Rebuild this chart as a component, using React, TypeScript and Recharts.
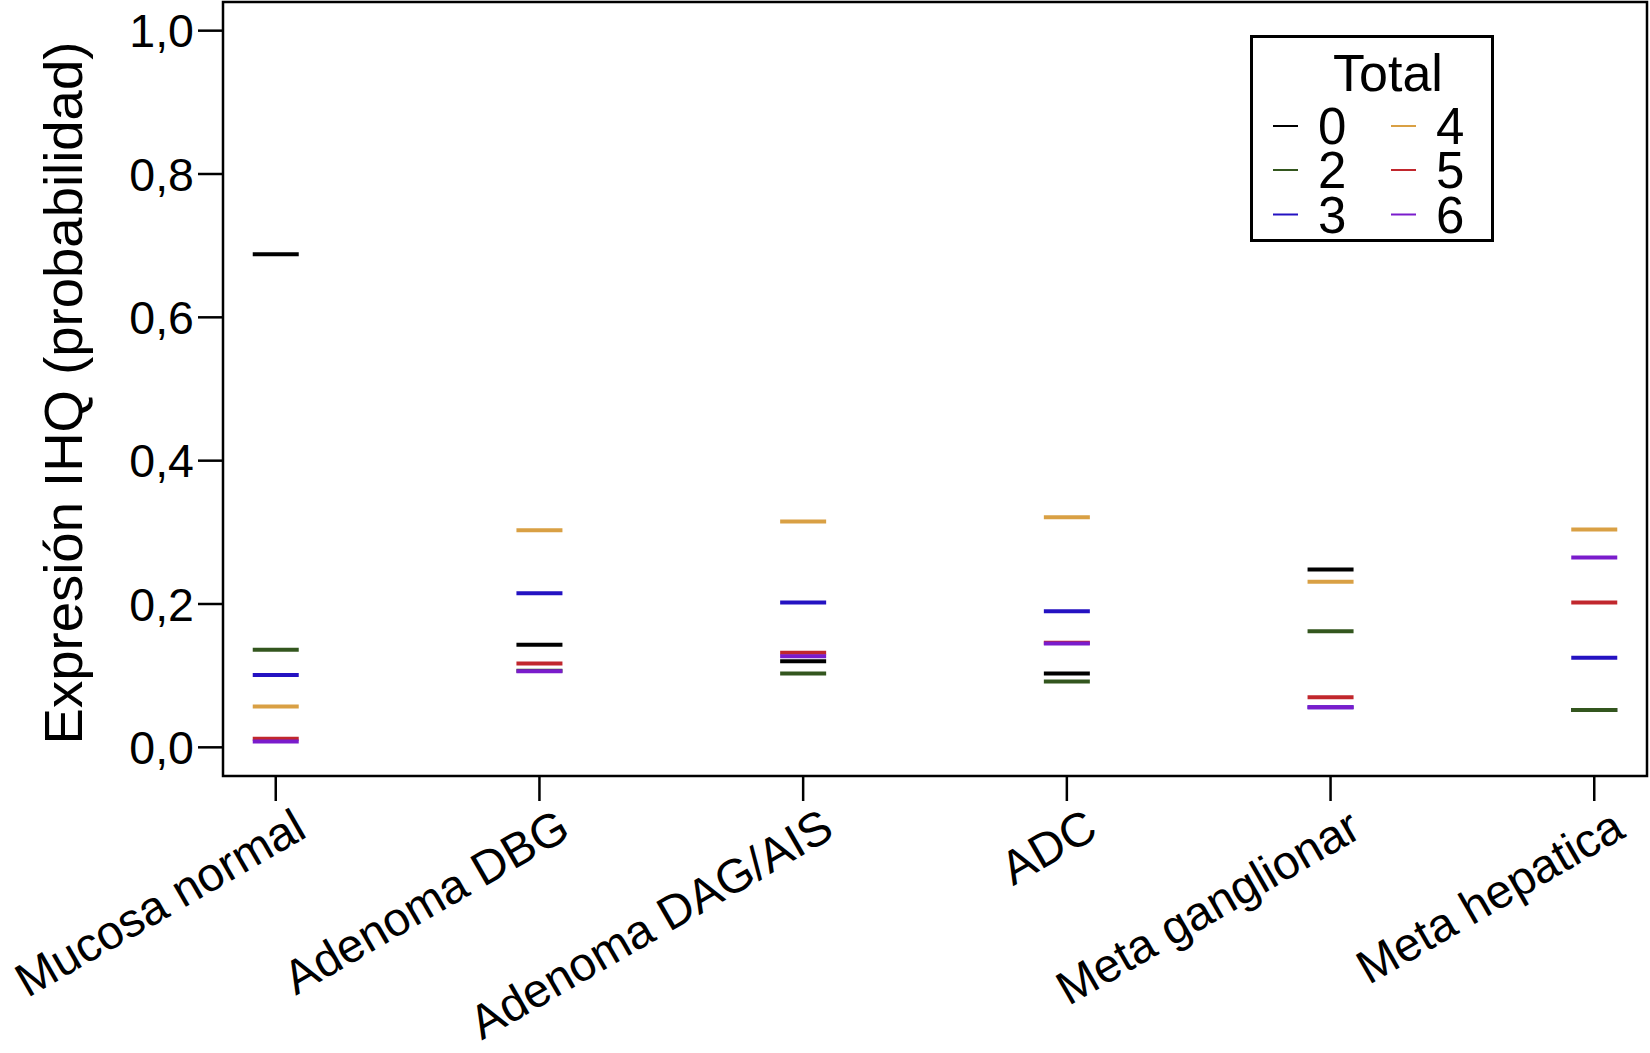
import { ScatterChart, Scatter, XAxis, YAxis, ReferenceArea, Legend } from 'recharts'

const categories = ['Mucosa normal', 'Adenoma DBG', 'Adenoma DAG/AIS', 'ADC', 'Meta ganglionar', 'Meta hepatica']
const xPositions = [1, 2, 3, 4, 5, 6]
const yTicks = [0, 0.2, 0.4, 0.6, 0.8, 1.0]

// probabilidad por grupo "Total"
const total0 = [0.688, 0.143, 0.120, 0.103, 0.248, 0.052]
const total2 = [0.136, 0.107, 0.103, 0.092, 0.162, 0.052]
const total3 = [0.101, 0.215, 0.202, 0.190, 0.056, 0.125]
const total4 = [0.057, 0.303, 0.315, 0.321, 0.231, 0.304]
const total5 = [0.012, 0.117, 0.132, 0.146, 0.070, 0.202]
const total6 = [0.008, 0.106, 0.127, 0.145, 0.056, 0.265]

const seriesNames = ['0', '2', '3', '4', '5', '6']
const seriesValues = [total0, total2, total3, total4, total5, total6]
const seriesColors = ['#000000', '#33561e', '#2412c2', '#d9a044', '#c1272d', '#7a1ccc']

const FONT = '"Liberation Sans", Arial, Helvetica, sans-serif'

const seriesData = seriesValues.map(vals =>
  xPositions.map((x, i) => ({ x, y: vals[i] }))
)

function segment(color: string) {
  return (props: any) => {
    const { cx, cy } = props
    if (cx == null || cy == null) return <g />
    return <line x1={cx - 23} x2={cx + 23} y1={cy} y2={cy} stroke={color} strokeWidth={4} />
  }
}

function XTick(props: any) {
  const { x, y, payload } = props
  const label = categories[xPositions.indexOf(payload.value)]
  return (
    <text
      transform={`translate(${x + 33},${y + 33}) rotate(-30)`}
      textAnchor="end"
      fontSize={47.5}
      fontFamily={FONT}
      fill="#000"
    >
      {label}
    </text>
  )
}

function YTitle() {
  return (
    <text
      x={82}
      y={393}
      transform="rotate(-90 82 393)"
      textAnchor="middle"
      fontSize={54.5}
      fontFamily={FONT}
      fill="#000"
    >
      Expresión IHQ (probabilidad)
    </text>
  )
}

function LegendBox() {
  const rows = [91, 135, 179.5]
  return (
    <svg width={244} height={208} style={{ display: 'block' }}>
      <rect x={1.5} y={1.5} width={241} height={204} fill="#fff" stroke="#000" strokeWidth={3} />
      <text x={138} y={56} textAnchor="middle" fontSize={52} fontFamily={FONT} fill="#000">Total</text>
      {seriesNames.map((name, i) => {
        const col = Math.floor(i / 3)
        const cy = rows[i % 3]
        const lx = col === 0 ? 23 : 141
        return (
          <g key={name}>
            <line x1={lx} x2={lx + 25} y1={cy} y2={cy} stroke={seriesColors[i]} strokeWidth={2} />
            <text x={lx + 45} y={cy + 18} fontSize={51} fontFamily={FONT} fill="#000">{name}</text>
          </g>
        )
      })}
    </svg>
  )
}

export default function App() {
  return (
    <div style={{ position: 'absolute', left: 0, top: 0, width: 1650, height: 1053, background: '#fff' }}>
      <ScatterChart width={1650} height={1053} margin={{ top: 2, right: 3, bottom: 0, left: 0 }}>
        <XAxis
          type="number"
          dataKey="x"
          domain={[0.8, 6.2]}
          ticks={xPositions}
          allowDataOverflow
          height={277}
          axisLine={false}
          tickSize={25}
          tickLine={{ stroke: '#000', strokeWidth: 2.5 }}
          tick={<XTick />}
          interval={0}
        />
        <YAxis
          type="number"
          dataKey="y"
          domain={[-0.04, 1.04]}
          ticks={yTicks}
          allowDataOverflow
          width={223}
          axisLine={false}
          tickSize={25}
          tickMargin={4}
          tickLine={{ stroke: '#000', strokeWidth: 2.5 }}
          tick={{ fontSize: 46.5, fill: '#000', fontFamily: FONT }}
          tickFormatter={(v: number) => v.toFixed(1).replace('.', ',')}
          interval={0}
          label={<YTitle />}
        />
        <ReferenceArea
          x1={0.8}
          x2={6.2}
          y1={-0.04}
          y2={1.04}
          ifOverflow="visible"
          fill="none"
          stroke="#000"
          strokeWidth={2.5}
          fillOpacity={0}
        />
        {seriesData.map((data, i) => (
          <Scatter
            key={seriesNames[i]}
            name={seriesNames[i]}
            data={data}
            fill={seriesColors[i]}
            shape={segment(seriesColors[i])}
            isAnimationActive={false}
          />
        ))}
        <Legend
          layout="vertical"
          align="center"
          verticalAlign="middle"
          wrapperStyle={{ left: 1250, top: 35, width: 244, height: 208 }}
          content={() => <LegendBox />}
        />
      </ScatterChart>
    </div>
  )
}
